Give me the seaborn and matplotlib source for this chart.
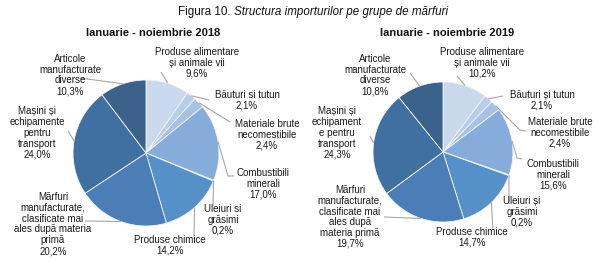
import numpy as np
import matplotlib
matplotlib.use("Agg")
import matplotlib.pyplot as plt
import seaborn as sns

sns.set_theme(style="white")
plt.rcParams['font.family'] = ['Liberation Sans', 'DejaVu Sans']

# ---------------- data ----------------
categories_2018 = [
    "Produse alimentare\nși animale vii",
    "Băuturi si tutun",
    "Materiale brute\nnecomestibile",
    "Combustibili\nminerali",
    "Uleiuri si\ngrăsimi",
    "Produse chimice",
    "Mărfuri\nmanufacturate,\nclasificate mai\nales după materia\nprimă",
    "Mașini și\nechipamente\npentru\ntransport",
    "Articole\nmanufacturate\ndiverse",
]
categories_2019 = [
    "Produse alimentare\nși animale vii",
    "Băuturi și tutun",
    "Materiale brute\nnecomestibile",
    "Combustibili\nminerali",
    "Uleiuri și\ngrăsimi",
    "Produse chimice",
    "Mărfuri\nmanufacturate,\nclasificate mai\nales după\nmateria primă",
    "Mașini și\nechipament\ne pentru\ntransport",
    "Articole\nmanufacturate\ndiverse",
]
values_2018 = [9.6, 2.1, 2.4, 17.0, 0.2, 14.2, 20.2, 24.0, 10.3]
values_2019 = [10.2, 2.1, 2.4, 15.6, 0.2, 14.7, 19.7, 24.3, 10.8]
subtitles = ["Ianuarie - noiembrie 2018", "Ianuarie - noiembrie 2019"]

colors = sns.color_palette(["#c9d8ec", "#b8cde7", "#a6c1e3", "#86acdb", "#6c9dd3",
                            "#5690c9", "#4b7eb6", "#40709f", "#3a628a"])

# ---------------- layout (pixel coords, y from top) ----------------
W, H = 600, 262
pies = [
    dict(center=(146, 153), radius=73, sub_x=153,
         label_xy=[(197, 63), (247, 100), (267, 135), (263, 184), (223, 220),
                   (170, 245), (53, 224), (37, 133), (70, 75)],
         leader=[[(161, 72)], [(209, 100)], [(230, 122)], [(228, 176), (234, 176)],
                 [(213, 206)], [(194, 236)], [(85, 221)], [(68, 131)], [(80, 78)]]),
    dict(center=(443, 152), radius=70, sub_x=447,
         label_xy=[(482, 63), (542, 100), (560, 133), (553, 175), (522, 212),
                   (472, 237), (350, 217), (337, 133), (375, 75)],
         leader=[[(457, 76)], [(503, 96)], [(520, 130), (526, 131)], [(517, 158), (522, 159)],
                 [(509, 204)], [(493, 230)], [(384, 217)], [(370, 136)], [(410, 73)]]),
]

fig = plt.figure(figsize=(6.0, 2.62), dpi=100)
ax = fig.add_axes([0, 0, 1, 1])

def fy(y):
    return H - y

fs = 7.0
for vals, cats, sub, P in zip([values_2018, values_2019],
                              [categories_2018, categories_2019], subtitles, pies):
    cx, cy = P["center"]
    wedges, _ = ax.pie(vals, colors=colors, startangle=90, counterclock=False,
                       center=(cx, fy(cy)), radius=P["radius"],
                       wedgeprops=dict(edgecolor="#f2f5fa", linewidth=0.6))
    ax.text(P["sub_x"], fy(33), sub, ha="center", va="center",
            fontsize=8.0, fontweight="bold", color="#111111")
    for w, v, c, lxy, ld in zip(wedges, vals, cats, P["label_xy"], P["leader"]):
        ang = np.deg2rad((w.theta1 + w.theta2) / 2)
        ex = cx + P["radius"] * np.cos(ang)
        ey = fy(cy) + P["radius"] * np.sin(ang)
        pts = [(ex, ey)] + [(x, fy(y)) for x, y in ld]
        ax.plot([p[0] for p in pts], [p[1] for p in pts], color="#a6a6a6", lw=0.8,
                solid_capstyle="butt", zorder=1)
        txt = c + "\n" + f"{v:.1f}%".replace(".", ",")
        ax.text(lxy[0], fy(lxy[1]), txt, ha="center", va="center", fontsize=fs,
                color="#1a1a1a", linespacing=1.1, zorder=5)

ax.text(231, fy(12), "Figura 10.", ha="right", va="center", fontsize=8.4, color="#111111")
ax.text(234, fy(12), "Structura importurilor pe grupe de mărfuri", ha="left", va="center",
        fontsize=8.4, style="italic", color="#111111")

ax.set_xlim(0, W)
ax.set_ylim(0, H)
ax.set_aspect("equal")
ax.axis("off")
fig.savefig("out.png", dpi=100, facecolor="white")
